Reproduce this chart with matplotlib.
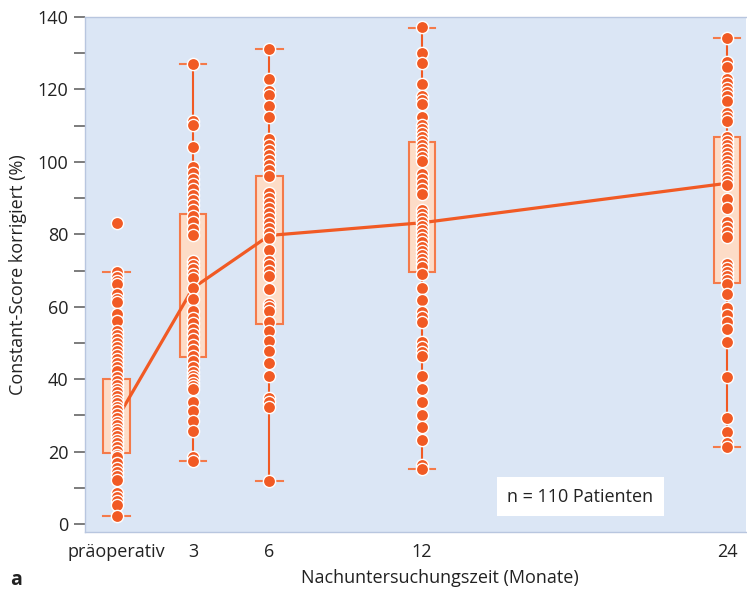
import matplotlib
matplotlib.use('Agg')
import matplotlib.pyplot as plt

# Follow-up times (months), preop plotted at 0
times = [0, 3, 6, 12, 24]
tick_labels = ['präoperativ', '3', '6', '12', '24']

# Box statistics
q1 = [19.7, 46.0, 55.2, 69.5, 66.6]
q3 = [40.2, 85.5, 96.1, 105.5, 107.0]
whis_lo = [2.3, 17.3, 11.9, 15.1, 21.4]
whis_hi = [69.7, 126.9, 131.3, 137.1, 134.1]

# Mean line
means = [29.0, 65.2, 79.7, 83.2, 94.1]

# Individual patient values (visible dots)
preop = [83, 69.7, 68.1, 67.2, 66.3, 63.6, 62.2, 61.3, 57.9, 56.0, 53.4, 52.3,
         51.2, 50.1, 49.0, 47.9, 46.8, 45.7, 44.5, 43.4, 42.3, 40.5, 39.5, 38.5,
         37.4, 36.4, 35.4, 34.4, 33.4, 32.4, 31.4, 30.4, 29.4, 28.3, 27.3, 26.3,
         25.3, 24.3, 23.3, 22.3, 21.2, 20.2, 19.2, 18.4, 17.0, 15.6, 14.5, 13.4,
         12.3, 8.7, 7.6, 6.5, 5.4, 2.3]
m3 = [126.9, 111.2, 110.1, 104.0, 98.6, 96.9, 95.4, 94.0, 92.6, 91.0, 89.4,
      88.0, 86.6, 85.0, 83.4, 81.5, 79.7, 72.6, 71.4, 70.5, 69.0, 68.0, 65.1,
      62.2, 58.7, 57.0, 55.5, 54.0, 52.5, 51.0, 49.5, 48.0, 46.5, 45.0, 43.5,
      42.0, 41.0, 40.0, 39.0, 38.0, 37.3, 33.8, 31.1, 28.4, 25.7, 18.5, 17.4]
m6 = [131.3, 122.9, 119.6, 118.4, 115.5, 112.4, 106.4, 104.6, 103.2, 101.8,
      100.4, 99.1, 97.7, 96.0, 91.4, 90.0, 88.6, 87.2, 85.9, 84.5, 83.1, 81.7,
      80.3, 78.9, 75.7, 72.6, 71.4, 70.0, 68.6, 64.9, 60.8, 59.9, 58.9, 55.9,
      53.4, 50.6, 47.9, 44.5, 41.0, 34.8, 33.6, 32.2, 11.9]
m12 = [137.2, 130.2, 127.2, 121.4, 118.1, 117.0, 116.1, 112.4, 110.1, 109.0,
       107.9, 106.8, 105.7, 104.6, 103.5, 102.4, 101.3, 100.2, 96.6, 95.4, 94.0,
       92.6, 91.2, 86.6, 85.5, 84.4, 83.3, 82.2, 81.1, 80.0, 78.9, 77.8, 76.6,
       75.5, 74.4, 73.3, 72.2, 71.1, 69.1, 65.1, 61.8, 58.5, 57.1, 55.7, 50.2,
       48.8, 47.4, 46.5, 41.0, 37.3, 33.6, 30.2, 26.8, 23.2, 16.2, 15.1]
m24 = [134.1, 127.5, 126.3, 122.9, 121.7, 120.5, 119.3, 118.1, 116.9, 113.6,
       112.4, 111.3, 106.9, 105.8, 104.7, 103.6, 102.5, 101.4, 100.3, 99.1, 98.0,
       96.9, 95.8, 94.7, 93.6, 89.8, 87.4, 83.4, 82.0, 80.6, 79.2, 71.9, 70.8,
       69.6, 68.5, 67.4, 66.3, 63.4, 59.7, 57.6, 55.7, 53.9, 50.2, 40.5, 29.2,
       25.5, 22.3, 21.4]
groups = [preop, m3, m6, m12, m24]

ORANGE = '#f15a24'
BOX_EDGE = '#f47a4a'
BOX_FACE = '#fddcc7'
BG = '#dbe6f5'

plt.rcParams['font.family'] = ['Open Sans', 'DejaVu Sans']

fig = plt.figure(figsize=(7.47, 5.91), dpi=100)
ax = fig.add_axes([0.1138, 0.1003, 0.8849, 0.8709])
ax.set_facecolor(BG)

stats = []
for i in range(len(times)):
    stats.append({'q1': q1[i], 'q3': q3[i], 'med': q1[i],
                  'whislo': whis_lo[i], 'whishi': whis_hi[i], 'fliers': []})

ax.bxp(stats, positions=times, widths=1.05, patch_artist=True,
       showfliers=False,
       boxprops=dict(facecolor=BOX_FACE, edgecolor=BOX_EDGE, linewidth=1.5),
       whiskerprops=dict(color=ORANGE, linewidth=1.5),
       capprops=dict(color=BOX_EDGE, linewidth=1.5),
       medianprops=dict(linewidth=0), capwidths=1.05, zorder=2)

ax.plot(times, means, color=ORANGE, linewidth=2.3, zorder=3)

for t, vals in zip(times, groups):
    ax.plot([t] * len(vals), vals, 'o', color=ORANGE, markersize=8.8,
            markeredgecolor='white', markeredgewidth=1.0, linestyle='none',
            zorder=4)

ax.set_xlim(-1.25, 24.75)
ax.set_ylim(-2.1, 140)
ax.set_xticks(times)
ax.set_xticklabels(tick_labels, fontsize=13, color='#222222')
ax.tick_params(axis='x', length=0, pad=8)
ax.set_yticks(range(0, 141, 20))
ax.set_yticks(range(10, 140, 20), minor=True)
ax.tick_params(axis='y', which='both', length=8, width=1.2, color='#666666',
               labelsize=13, labelcolor='#222222', pad=4)

for side in ['top', 'right', 'left', 'bottom']:
    ax.spines[side].set_color('#b8c6df')
    ax.spines[side].set_linewidth(1)
ax.spines['right'].set_visible(False)

ax.set_ylabel('Constant-Score korrigiert (%)', fontsize=13, color='#222222')
ax.yaxis.set_label_coords(-0.087, 0.5)
ax.set_xlabel('Nachuntersuchungszeit (Monate)', fontsize=13, color='#222222')
ax.xaxis.set_label_coords(0.537, -0.073)

ax.text(18.24, 7.6, 'n = 110 Patienten', fontsize=13, color='#222222',
        ha='center', va='center', zorder=5,
        bbox=dict(facecolor='white', edgecolor='none', boxstyle='square,pad=0.6'))

fig.text(0.014, 0.01, 'a', fontsize=14, fontweight='bold', color='#222222')

fig.savefig('out.png', dpi=100)
